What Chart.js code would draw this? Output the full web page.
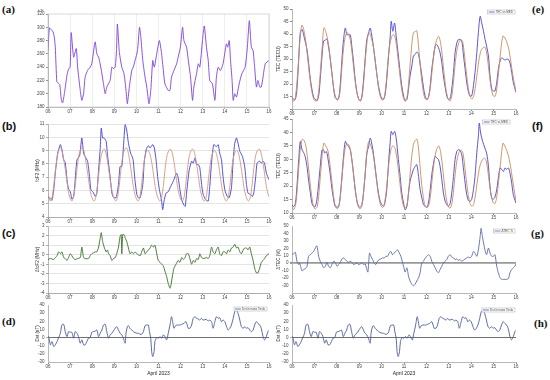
<!DOCTYPE html>
<html>
<head>
<meta charset="utf-8">
<script src="https://cdn.jsdelivr.net/npm/chart.js@4.4.1/dist/chart.umd.min.js"></script>
<style>
body { margin: 0; width: 550px; height: 380px; background: #fff; position: relative; overflow: hidden; }
canvas { position: absolute; }
.lab { position: absolute; font-weight: bold; font-size: 11px; line-height: 11px; color: #111; }
.serif { font-family: "Liberation Serif", "Times New Roman", serif; }
.sans { font-family: "Liberation Sans", Arial, sans-serif; }
</style>
</head>
<body>
<div class="lab serif" style="left:2px;top:4px">(a)</div>
<div class="lab sans" style="left:2px;top:121px">(b)</div>
<div class="lab sans" style="left:2px;top:228px">(c)</div>
<div class="lab serif" style="left:2px;top:316px">(d)</div>
<div class="lab serif" style="left:532px;top:4px">(e)</div>
<div class="lab sans" style="left:532px;top:121px">(f)</div>
<div class="lab serif" style="left:531px;top:228px">(g)</div>
<div class="lab serif" style="left:534px;top:318px">(h)</div>
<script>
// day of April 2023, value
const dayTicks = ['06', '07', '08', '09', '10', '11', '12', '13', '14', '15', '16'];

const hfObs = [[6.00,265],[6.06,299],[6.11,298],[6.23,293],[6.29,284],[6.33,270],[6.40,218],[6.47,216],[6.53,214],[6.60,192],[6.66,186],[6.75,202],[6.86,228],[6.93,237],[7.00,240],
  [7.05,292],[7.16,255],[7.28,268],[7.34,240],[7.46,205],[7.53,190],[7.61,200],[7.68,225],[7.79,235],[7.91,240],[7.98,245],[8.11,275],[8.14,278],[8.21,260],[8.29,255],[8.36,245],[8.44,230],[8.51,215],[8.59,200],[8.66,210],[8.81,220],[8.89,240],[8.96,238],[9.04,240],[9.10,265],
  [9.14,305],[9.23,262],[9.34,240],[9.44,230],[9.53,205],[9.59,185],[9.68,210],[9.79,235],[9.86,240],[9.94,250],[10.05,265],[10.14,300],[10.20,285],[10.29,250],[10.39,225],[10.47,210],[10.57,185],[10.65,205],[10.74,250],[10.81,240],[10.92,260],
  [11.04,280],[11.14,260],[11.22,235],[11.29,215],[11.44,205],[11.52,205],[11.59,225],[11.70,235],[11.82,245],[11.89,255],[11.99,270],[12.09,300],[12.15,280],[12.27,270],[12.35,250],[12.45,225],[12.54,190],[12.60,210],[12.72,230],[12.80,245],[12.87,240],[12.99,280],
  [13.07,302],[13.17,270],[13.25,250],[13.32,220],[13.44,215],[13.55,190],[13.62,225],[13.70,240],[13.80,235],[13.92,245],[14.07,275],[14.13,270],[14.20,280],[14.26,250],[14.33,220],[14.38,190],[14.45,200],[14.53,195],[14.65,215],[14.77,230],[14.92,240],
  [15.02,270],[15.11,310],[15.20,270],[15.28,265],[15.35,240],[15.43,210],[15.50,220],[15.58,210],[15.65,210],[15.73,225],[15.83,245],[16.00,250]];

const foObs = [[6.00,5.5],[6.11,5.4],[6.18,5.25],[6.26,6.05],[6.33,7.3],[6.44,8.8],[6.56,9.45],[6.63,9.07],[6.71,8.3],[6.78,8.1],[6.86,6.8],[6.93,6.1],[7.01,5.9],[7.08,5.35],[7.16,5.55],[7.23,6.8],[7.31,8.3],[7.43,8.6],[7.53,9.95],[7.61,8.8],[7.68,8.55],[7.79,8.2],[7.88,7.05],[7.94,6.05],
  [8.03,5.9],[8.14,5.55],[8.21,5.8],[8.29,7.55],[8.36,9.07],[8.41,10.7],[8.47,9.95],[8.54,9.95],[8.63,9.7],[8.69,8.7],[8.81,7.05],[8.89,5.8],[8.96,5.5],[9.08,5.45],[9.19,6.45],[9.26,7.8],[9.34,7.8],[9.41,9.2],[9.49,10.95],[9.56,10.55],[9.64,9.55],[9.74,8.8],[9.83,8.45],[9.86,8.2],[9.94,6.7],
  [10.02,5.7],[10.09,5.45],[10.17,5.45],[10.29,6.45],[10.35,8.05],[10.44,9.07],[10.54,9.37],[10.62,9.2],[10.74,9.45],[10.81,9.2],[10.89,8.3],[10.96,7.05],[11.04,6.05],[11.13,5.35],[11.19,4.55],[11.25,5.2],[11.34,5.8],[11.44,5.9],[11.55,6.3],[11.67,6.7],[11.82,7.3],[11.89,6.95],[11.97,6.05],
  [12.05,5.3],[12.15,4.9],[12.21,4.8],[12.27,5.8],[12.39,7.55],[12.50,8.2],[12.57,8.05],[12.65,8.45],[12.72,7.95],[12.80,7.95],[12.87,7.7],[12.95,6.45],[13.02,5.7],[13.14,5.3],[13.25,5.2],[13.32,6.3],[13.41,8.3],[13.50,9.45],[13.62,9.3],[13.70,9.45],[13.77,8.8],[13.85,8.3],[13.92,7.05],
  [14.00,6.05],[14.11,5.55],[14.20,5.45],[14.30,6.2],[14.38,8.3],[14.45,9.55],[14.53,9.95],[14.60,9.55],[14.68,8.95],[14.80,8.55],[14.90,7.8],[14.98,6.45],[15.05,5.8],[15.16,5.7],[15.25,5.55],[15.31,5.8],[15.40,7.05],[15.46,8.05],[15.58,8.2],[15.65,8.05],[15.73,8.2],[15.80,8.05],[15.88,7.3],[16.00,6.8]];

const foMed = [[6.00,5.8],[6.10,5.2],[6.20,5.6],[6.30,7.0],[6.40,8.4],[6.50,9.1],[6.58,9.2],[6.68,8.6],[6.78,7.6],[6.88,6.4],[6.96,5.6],
  [7.08,5.2],[7.18,5.7],[7.28,7.1],[7.38,8.5],[7.48,9.1],[7.58,9.2],[7.68,8.5],[7.78,7.5],[7.88,6.3],[7.96,5.6],
  [8.08,5.2],[8.18,5.6],[8.28,7.0],[8.38,8.4],[8.48,9.0],[8.56,9.1],[8.66,8.5],[8.76,7.4],[8.86,6.3],[8.95,5.6],
  [9.07,5.2],[9.17,5.7],[9.27,7.1],[9.37,8.5],[9.47,9.1],[9.56,9.2],[9.66,8.6],[9.76,7.5],[9.86,6.3],[9.95,5.6],
  [10.07,5.2],[10.17,5.6],[10.27,7.0],[10.37,8.4],[10.47,9.0],[10.55,9.0],[10.65,8.5],[10.75,7.5],[10.85,6.3],[10.94,5.6],
  [11.06,5.2],[11.16,5.6],[11.26,7.0],[11.36,8.4],[11.46,9.0],[11.55,9.1],[11.65,8.6],[11.75,7.6],[11.85,6.4],[11.95,5.6],
  [12.07,5.2],[12.17,5.6],[12.27,7.0],[12.37,8.4],[12.47,9.0],[12.56,9.1],[12.66,8.6],[12.76,7.6],[12.86,6.4],[12.95,5.6],
  [13.07,5.2],[13.17,5.6],[13.27,7.0],[13.37,8.3],[13.47,8.9],[13.56,9.0],[13.66,8.5],[13.76,7.5],[13.86,6.3],[13.95,5.6],
  [14.07,5.2],[14.17,5.6],[14.27,7.0],[14.37,8.3],[14.47,8.9],[14.56,9.0],[14.66,8.5],[14.76,7.5],[14.86,6.3],[14.95,5.6],
  [15.07,5.2],[15.17,5.6],[15.27,7.0],[15.37,8.4],[15.47,9.0],[15.57,9.1],[15.67,8.6],[15.77,7.6],[15.87,6.4],[15.96,5.7],[16.00,5.5]];

const dFo = [[6.00,-0.5],[6.11,-0.4],[6.26,-0.5],[6.33,-0.3],[6.41,-0.1],[6.48,0.3],[6.56,0.1],[6.63,0.3],[6.71,-0.3],[6.78,-0.4],[6.86,-0.6],[6.93,-0.3],[7.01,0.1],[7.08,-0.1],[7.16,-0.4],[7.23,-0.5],[7.34,-0.4],[7.46,-0.3],[7.53,0.8],[7.61,-0.3],[7.68,-0.4],[7.83,-0.4],[7.91,-0.1],[7.98,0.1],
  [8.14,0.3],[8.21,0.3],[8.29,0.8],[8.36,1.7],[8.41,2.3],[8.47,1.4],[8.54,0.8],[8.63,0.3],[8.69,0.5],[8.74,0.1],[8.81,-0.1],[8.89,-0.6],[8.96,-0.4],[9.04,-0.3],[9.11,0.1],[9.19,0.8],[9.26,1.9],[9.31,2.1],[9.34,0.1],[9.38,2.1],[9.44,2.1],[9.50,1.7],[9.56,1.4],[9.64,0.7],[9.71,0.1],[9.79,0.3],[9.86,0.1],[9.94,0.3],
  [10.02,0.1],[10.17,-0.1],[10.24,0.3],[10.32,0.7],[10.39,0.1],[10.47,0.3],[10.54,0.5],[10.62,0.7],[10.69,1.0],[10.77,0.8],[10.84,1.0],[10.92,0.1],[10.99,-0.6],[11.07,-0.8],[11.22,-1.2],[11.29,-1.7],[11.37,-2.3],[11.44,-3.0],[11.52,-3.5],[11.56,-3.2],[11.64,-2.1],[11.70,-1.4],[11.79,-1.0],[11.89,-0.6],[11.97,-0.8],
  [12.05,-0.3],[12.12,-0.5],[12.20,-0.3],[12.27,0.1],[12.35,0.1],[12.42,-0.4],[12.50,-1.0],[12.57,-0.6],[12.65,-0.8],[12.72,-0.4],[12.80,-0.5],[12.87,0.1],[12.95,-0.3],[13.05,-0.4],[13.17,-0.3],[13.25,-0.4],[13.32,-0.1],[13.40,0.8],[13.47,0.3],[13.55,0.1],[13.62,0.5],[13.70,0.8],[13.77,0.1],[13.85,-0.1],[13.92,0.3],
  [14.00,0.3],[14.08,0.1],[14.15,0.5],[14.23,0.3],[14.30,0.7],[14.38,0.8],[14.45,1.1],[14.53,0.7],[14.60,0.8],[14.68,0.3],[14.75,0.1],[14.83,0.5],[14.90,0.7],[14.98,0.7],[15.05,0.5],[15.13,0.8],[15.20,0.1],[15.28,-0.6],[15.35,-1.4],[15.43,-1.9],[15.50,-1.9],[15.58,-1.4],[15.65,-0.8],[15.73,-0.6],[15.80,-0.4],[15.88,-0.1],[16.00,0.1]];

const dst = [[6.00,1.2],[6.03,1.2],[6.11,-8.9],[6.18,-4.9],[6.26,-11],[6.33,-8.9],[6.41,-4.9],[6.48,0],[6.56,5.3],[6.63,15.4],[6.71,16.3],[6.78,7.3],[6.86,1.2],[6.93,7.3],[7.01,6.5],[7.08,6.5],[7.16,-0.8],[7.23,7.3],[7.31,5.3],[7.38,1.2],[7.46,-6.9],[7.53,-2.8],[7.61,-8.9],[7.68,-8.9],[7.76,-4.9],[7.83,-0.8],[7.91,0],[7.98,6.5],
  [8.06,7.3],[8.14,8.1],[8.21,9.3],[8.29,1.2],[8.36,5.3],[8.44,9.3],[8.51,15.4],[8.59,16.3],[8.66,7.3],[8.74,-0.8],[8.81,3.3],[8.89,5.3],[8.96,8.1],[9.04,11.4],[9.11,13.4],[9.19,9.3],[9.26,5.3],[9.34,3.3],[9.41,-0.8],[9.49,-6.9],[9.53,5.3],[9.59,13.4],[9.64,14.6],[9.71,11.4],[9.79,9.3],[9.86,7.3],
  [10.02,5.3],[10.09,5.3],[10.17,4.1],[10.24,4.1],[10.32,7.3],[10.39,14.6],[10.47,15.4],[10.54,15.4],[10.59,7.3],[10.65,-0.8],[10.69,-17.1],[10.74,-23.2],[10.80,-17.1],[10.84,-4.9],[10.92,0],[10.99,-0.8],[11.07,1.2],[11.14,-0.8],[11.22,3.3],[11.29,1.2],[11.37,-2.8],[11.44,5.3],[11.52,15.4],[11.59,25.6],[11.64,19.5],[11.70,11.4],[11.77,14.6],[11.85,15.4],[11.97,15.4],
  [12.05,16.3],[12.15,17.5],[12.24,19.5],[12.35,11.4],[12.42,11.4],[12.50,15.4],[12.57,23.6],[12.65,25.6],[12.72,23.6],[12.80,22.8],[12.87,21.5],[12.95,23.6],[13.02,21.5],[13.17,22.4],[13.25,20.3],[13.32,21.5],[13.40,19.5],[13.47,11.4],[13.55,19.5],[13.62,25.6],[13.70,23.6],[13.77,24.4],[13.85,19.5],[13.92,21.5],
  [14.00,19.5],[14.08,13.4],[14.15,9.3],[14.23,11.4],[14.30,15.4],[14.38,23.6],[14.45,31.7],[14.53,33.7],[14.60,29.7],[14.68,21.5],[14.75,13.4],[14.83,11.4],[14.90,13.4],[14.98,11.4],[15.05,12.2],[15.13,9.3],[15.20,7.3],[15.28,9.3],[15.35,15.4],[15.43,19.5],[15.50,17.5],[15.58,15.4],[15.65,11.4],[15.73,1.2],[15.80,-2.8],[15.88,1.2],[15.95,7.3],[16.00,9]];

const tecObsE = [[6.00,14.6],[6.07,13.9],[6.15,13.9],[6.22,17.9],[6.30,29.8],[6.37,40.5],[6.45,41.8],[6.56,38.1],[6.67,33.8],[6.74,28.5],[6.82,21.9],[6.89,17.9],[6.97,14.6],[7.04,13.9],[7.11,13.2],[7.19,15.2],[7.26,21.9],[7.34,31.2],[7.41,37.2],[7.49,37.5],[7.56,38.1],[7.60,36.5],[7.68,31.9],[7.78,24.6],[7.86,18],[7.93,14.6],
  [8.01,13.9],[8.08,14.2],[8.15,19.3],[8.23,29.8],[8.30,37.7],[8.38,42.4],[8.45,39.7],[8.52,39.7],[8.60,39.7],[8.67,35.1],[8.75,28.5],[8.82,21.9],[8.90,16.6],[8.97,14.2],[9.05,13.2],[9.12,15.2],[9.19,21.2],[9.27,30.5],[9.34,37.7],[9.42,40.5],[9.49,42.4],[9.54,40.5],[9.61,36.5],[9.67,32.5],[9.76,25.9],[9.86,19.3],[9.94,15.9],
  [10.01,14.2],[10.09,13.9],[10.16,15.9],[10.23,21.9],[10.31,31.2],[10.38,38.5],[10.43,45.1],[10.50,41.1],[10.58,44.4],[10.65,39.1],[10.75,31.2],[10.83,24.6],[10.90,19.3],[10.98,15.2],[11.05,13.2],[11.13,13.9],[11.20,17.9],[11.27,23.2],[11.35,27.2],[11.42,31.2],[11.50,31.9],[11.57,32.8],[11.65,31.9],[11.72,28],[11.80,23.2],[11.87,18.6],[11.94,15.2],
  [12.02,13.9],[12.09,14.6],[12.17,19.3],[12.24,25.9],[12.32,31.2],[12.39,35.1],[12.46,35.8],[12.54,34.5],[12.61,32.5],[12.69,28.5],[12.76,23.2],[12.84,18.6],[12.91,15.2],[12.98,13.9],[13.06,14.2],[13.13,17.9],[13.21,24.6],[13.28,32.5],[13.36,36.5],[13.43,37.8],[13.50,37.8],[13.58,37.2],[13.65,31.9],[13.73,25.9],[13.80,20.6],[13.88,16.6],[13.95,15.2],
  [14.02,15.2],[14.10,19.3],[14.17,24.6],[14.25,32.5],[14.32,40.5],[14.40,47.1],[14.47,44.4],[14.55,41.1],[14.62,37.8],[14.69,35.1],[14.77,31.2],[14.84,23.2],[14.92,17.9],[14.99,17.2],[15.06,17.2],[15.14,20.6],[15.21,25.9],[15.29,29.2],[15.36,30.5],[15.44,29.9],[15.51,29.6],[15.58,29.9],[15.66,29.9],[15.73,28.5],[15.81,24.6],[15.88,20.6],[16.00,16.6]];

const tecMedE = [[6.00,14.2],[6.07,13.0],[6.15,14.5],[6.25,24],[6.35,37],[6.44,43.5],[6.53,41.5],[6.63,36],[6.74,27],[6.85,19],[6.95,14.5],
  [7.05,13.2],[7.15,14.5],[7.25,23],[7.35,35],[7.43,42.5],[7.52,40.5],[7.62,36.5],[7.72,29],[7.82,21],[7.92,15.5],
  [8.03,13.5],[8.13,16],[8.23,27],[8.33,36.5],[8.44,40.5],[8.54,39.8],[8.64,35.5],[8.74,27.5],[8.85,19],[8.95,14.5],
  [9.05,13.2],[9.15,16],[9.25,27],[9.35,37],[9.44,40.5],[9.54,38.5],[9.64,34.5],[9.74,27.5],[9.84,20],[9.94,15],
  [10.05,13.5],[10.15,16],[10.25,25.5],[10.35,35],[10.45,39],[10.54,39.8],[10.63,37.5],[10.73,30.5],[10.83,22.5],[10.93,16],
  [11.03,13.5],[11.13,14.5],[11.23,23],[11.33,34],[11.42,40.5],[11.50,41],[11.57,41.3],[11.65,35],[11.75,25],[11.85,17.5],[11.95,14],
  [12.05,13.8],[12.15,17],[12.25,25],[12.35,33],[12.45,37.5],[12.55,39],[12.65,35.5],[12.75,27.5],[12.85,19.5],[12.95,14.5],
  [13.05,13.2],[13.15,16],[13.25,25],[13.35,33],[13.45,36.5],[13.55,37.8],[13.64,36],[13.73,29],[13.83,21],[13.93,15.5],
  [14.03,14],[14.12,15.5],[14.22,21],[14.32,28],[14.42,33],[14.52,34.5],[14.60,34.8],[14.68,33],[14.77,27],[14.87,19.5],[14.97,15.5],
  [15.06,15],[15.14,18],[15.22,24.5],[15.32,33.5],[15.42,39.2],[15.50,38.5],[15.60,36.5],[15.70,33],[15.80,27],[15.90,21.5],[16.00,17]];

const tecObsF = [[6.00,13.0],[6.07,12.4],[6.15,13.6],[6.22,19.8],[6.30,29.8],[6.37,36.6],[6.45,33.5],[6.52,32.5],[6.59,31],[6.67,27.3],[6.74,22.3],[6.82,17.4],[6.89,13.6],[6.97,12.4],[7.04,12.4],[7.11,14.9],[7.19,21.1],[7.26,27.3],[7.34,33.5],[7.41,33.5],[7.46,32.3],[7.53,32.9],[7.59,31.1],[7.68,26.1],[7.78,19.3],[7.86,14.9],[7.93,12.4],
  [8.01,12.2],[8.08,12.4],[8.15,16.1],[8.23,23.6],[8.30,31.1],[8.38,36.7],[8.45,35.5],[8.52,34.8],[8.60,33.6],[8.67,29.9],[8.75,24.3],[8.82,18.7],[8.90,14.4],[8.97,12.5],[9.05,12.2],[9.12,13.1],[9.19,17.4],[9.27,24.8],[9.34,32.3],[9.42,34.7],[9.49,37.9],[9.54,36.7],[9.61,33.6],[9.67,29.9],[9.76,23.6],[9.86,17.4],[9.94,14.3],
  [10.01,13.1],[10.09,12.5],[10.16,14.3],[10.23,18.7],[10.31,28.6],[10.38,36.1],[10.43,40.4],[10.50,39.2],[10.58,40.4],[10.65,37.9],[10.75,29.9],[10.83,23.6],[10.90,17.4],[10.98,13.7],[11.05,11.2],[11.13,12.5],[11.20,17.4],[11.27,21.8],[11.35,24.3],[11.42,26.2],[11.50,27.4],[11.57,28],[11.65,23.6],[11.72,18.7],[11.80,15.5],[11.87,13.1],[11.94,12.5],
  [12.02,12.2],[12.09,13.7],[12.17,18.7],[12.24,24.3],[12.32,28.6],[12.39,31.1],[12.46,30.5],[12.54,29.9],[12.61,27.4],[12.69,22.4],[12.76,17.4],[12.84,14.3],[12.91,13.1],[12.98,12.5],[13.06,13.5],[13.13,17.4],[13.21,23.6],[13.28,29.9],[13.36,33],[13.43,33.6],[13.50,33.3],[13.58,31.7],[13.65,26.8],[13.73,21.1],[13.80,16.8],[13.88,14.6],[13.95,14.3],
  [14.02,15],[14.10,18.7],[14.17,23.6],[14.25,32.4],[14.32,38.6],[14.36,43.5],[14.42,39.8],[14.51,36.7],[14.61,34.2],[14.69,32.3],[14.77,27.4],[14.84,19.9],[14.92,15.5],[14.99,15.2],[15.06,15.9],[15.14,18.7],[15.21,23],[15.29,26.8],[15.36,26.2],[15.44,25.5],[15.51,26.8],[15.58,26.2],[15.66,26.8],[15.73,24.9],[15.81,21.1],[15.88,16.8],[16.00,13.7]];

const tecMedF = [[6.00,12.5],[6.07,11.2],[6.17,13.5],[6.27,23],[6.36,33],[6.45,37.4],[6.54,37],[6.63,34.5],[6.73,27.5],[6.83,19.5],[6.93,13.5],
  [7.03,11.5],[7.13,12.5],[7.23,20],[7.33,30],[7.42,36],[7.51,35],[7.61,33],[7.71,27],[7.81,19.5],[7.91,13.5],
  [8.02,11.5],[8.12,13.5],[8.22,22],[8.32,31],[8.42,35.5],[8.52,35.5],[8.62,33],[8.72,26.5],[8.82,19],[8.92,13.5],
  [9.03,11.5],[9.13,13],[9.23,21],[9.33,31],[9.42,36.5],[9.52,35],[9.62,32],[9.72,26],[9.82,19],[9.92,14],
  [10.03,12],[10.13,13.5],[10.23,20],[10.33,29],[10.43,34],[10.52,35],[10.62,33.5],[10.72,28],[10.82,21],[10.92,14.5],
  [11.02,12],[11.12,12.5],[11.22,19],[11.32,29],[11.42,35.5],[11.50,37],[11.58,37.5],[11.66,33],[11.75,24],[11.85,16.5],[11.95,12.5],
  [12.05,12],[12.15,14.5],[12.25,22],[12.35,29.5],[12.45,33.5],[12.55,35],[12.65,32],[12.75,25],[12.85,17.5],[12.95,13],
  [13.05,11.8],[13.15,14],[13.25,21.5],[13.35,29],[13.45,32.5],[13.55,33.5],[13.64,32],[13.73,26],[13.83,19],[13.93,14],
  [14.03,12.5],[14.12,13.5],[14.22,18.5],[14.32,24.5],[14.42,28.5],[14.52,30],[14.60,30.5],[14.68,29],[14.77,24],[14.87,17.5],[14.97,14],
  [15.06,13.5],[15.14,16],[15.22,21.5],[15.32,29.5],[15.42,36],[15.50,35],[15.60,33],[15.70,30],[15.80,25],[15.90,19.5],[16.00,14.5]];

const dTec = [[6.00,11.5],[6.07,12.8],[6.15,14.6],[6.22,2.7],[6.30,-1.8],[6.34,0.4],[6.40,-6.2],[6.45,-10.6],[6.52,-8.4],[6.59,-7.5],[6.67,-4],[6.74,9.3],[6.82,11.5],[6.89,13.7],[6.97,15.9],[7.04,20.4],[7.11,23.5],[7.19,9.3],[7.26,2.7],[7.34,-1.8],[7.41,-6.2],[7.49,-4],[7.56,1.3],[7.63,-4],[7.71,-6.2],[7.78,-1.8],[7.86,2.7],[7.93,1.3],
  [8.01,-4],[8.08,-1.8],[8.15,0.4],[8.23,5.8],[8.30,7.1],[8.38,4.9],[8.45,2.7],[8.52,1.3],[8.60,2.7],[8.67,1.3],[8.75,-1.8],[8.82,-0.9],[8.90,0.4],[8.97,-1.8],[9.05,-0.9],[9.12,0.4],[9.19,-1.8],[9.27,-0.9],[9.34,-8.4],[9.39,-11.9],[9.46,13.7],[9.52,9.3],[9.60,4.9],[9.67,0.4],[9.74,-1.8],[9.82,2.7],[9.89,4.9],[9.97,5.8],
  [10.04,7.1],[10.12,7.1],[10.19,9.3],[10.27,9.3],[10.34,13.7],[10.41,15.9],[10.49,11.5],[10.56,13.7],[10.64,15.9],[10.71,18.1],[10.79,13.7],[10.86,9.3],[10.90,4.9],[10.98,-4],[11.05,-11.9],[11.13,-6.2],[11.20,-17.3],[11.27,-23.9],[11.35,-28.3],[11.42,-30.5],[11.49,-28.3],[11.57,-23.9],[11.65,-19.5],[11.72,-12.8],[11.79,0.4],[11.87,2.7],[11.95,7.1],
  [12.02,9.3],[12.09,11.5],[12.17,9.3],[12.24,2.7],[12.32,-1.8],[12.39,-6.2],[12.46,-10.6],[12.54,-12.8],[12.61,-8.4],[12.69,-4],[12.76,0.4],[12.84,2.7],[12.91,4.9],[12.98,9.3],[13.06,11.5],[13.13,8.4],[13.21,7.1],[13.28,4.9],[13.36,5.8],[13.43,4],[13.50,4.9],[13.58,2.7],[13.65,4],[13.73,5.8],[13.80,7.1],[13.88,8.4],[13.95,7.1],
  [14.02,9.3],[14.10,15.9],[14.17,13.7],[14.25,9.3],[14.32,18.1],[14.40,35.8],[14.44,46.9],[14.50,35.8],[14.58,22.6],[14.65,13.7],[14.69,11.5],[14.77,20.4],[14.84,13.7],[14.92,9.3],[14.99,9.3],[15.06,11.5],[15.14,-4],[15.21,-12.8],[15.29,-19.5],[15.36,-21.7],[15.44,-21.7],[15.51,-21.7],[15.58,-21.7],[15.66,-20.8],[15.73,-12.8],[15.81,-8.4],[15.88,-6.2],[15.95,-4],[16.00,-0.9]];

const PT = 5, PR = 5;
const pts = a => a.map(p => ({ x: p[0], y: p[1] }));

const boxLegend = {
    id: 'boxLegend',
    afterDraw(chart, args, o) {
        if (!o || !o.text) return;
        const c = chart.ctx, a = chart.chartArea;
        c.save();
        c.font = '3px "Liberation Sans"';
        const w = c.measureText(o.text).width + 10, h = 4;
        const x = a.right - w - (o.dx || 1), y = a.top + (o.dy || 1);
        c.fillStyle = '#fff'; c.fillRect(x, y, w, h);
        c.strokeStyle = '#aaa'; c.lineWidth = 0.5; c.strokeRect(x, y, w, h);
        c.strokeStyle = o.color; c.lineWidth = 0.8;
        c.beginPath(); c.moveTo(x + 1, y + h / 2); c.lineTo(x + 7, y + h / 2); c.stroke();
        c.fillStyle = '#444'; c.textBaseline = 'middle'; c.fillText(o.text, x + 8, y + h / 2);
        c.restore();
    }
};
const frame = {
    id: 'frame',
    afterDraw(chart, args, o) {
        const c = chart.ctx, a = chart.chartArea;
        if (o && o.color) {
            c.save(); c.strokeStyle = o.color; c.lineWidth = 0.7;
            c.strokeRect(a.left, a.top, a.right - a.left, a.bottom - a.top); c.restore();
        }
        if (o && o.note) {
            c.save(); c.font = '4px "Liberation Sans"'; c.fillStyle = '#555';
            c.fillText(o.note, a.left - 10, a.top - 2); c.restore();
        }
    }
};
Chart.register(boxLegend, frame);

function xScale(h, title, grid) {
    return {
        type: 'linear', min: 6, max: 16,
        afterFit(s) { s.height = h; },
        ticks: { stepSize: 1, autoSkip: false, maxRotation: 0, padding: 0.5, font: { size: 4.5, family: 'Liberation Sans' }, color: '#444',
            callback: v => dayTicks[v - 6] },
        grid: grid || { drawOnChartArea: false, tickLength: 2, tickColor: '#888' },
        border: { color: '#888', width: 0.6 },
        title: title ? { display: true, text: title, font: { size: 5, family: 'Liberation Sans' }, padding: 0, color: '#222' } : { display: false }
    };
}
function yScale(w, min, max, step, title, grid, cb) {
    return {
        min, max,
        afterFit(s) { s.width = w; },
        ticks: { stepSize: step, autoSkip: false, padding: 1.5, font: { size: 4.5, family: 'Liberation Sans' }, color: '#444', callback: cb || (v => v) },
        grid: grid || { drawOnChartArea: false, tickLength: 2, tickColor: '#888' },
        border: { color: '#888', width: 0.6 },
        title: title ? { display: true, text: title, font: { size: 4.5, family: 'Liberation Sans' }, padding: 0, color: '#333' } : { display: false }
    };
}
function line(data, color, tension) {
    return { data: pts(data), borderColor: color, borderWidth: 0.9, pointRadius: 0, tension: tension == null ? 0.3 : tension, fill: false };
}
function panel(box, xh, yw, datasets, scales, plugins) {
    const cv = document.createElement('canvas');
    const w = box.r - box.l + yw + PR, h = box.b - box.t + PT + xh;
    cv.width = w; cv.height = h;
    cv.style.left = (box.l - yw) + 'px'; cv.style.top = (box.t - PT) + 'px';
    cv.style.width = w + 'px'; cv.style.height = h + 'px';
    document.body.appendChild(cv);
    new Chart(cv.getContext('2d'), {
        type: 'line',
        data: { datasets },
        options: {
            responsive: false, animation: false, devicePixelRatio: 1,
            layout: { padding: { top: PT, right: PR, left: 0, bottom: 0 } },
            plugins: Object.assign({ legend: { display: false }, tooltip: { enabled: false } }, plugins || {}),
            scales
        }
    });
}

const hGrid = { color: '#d9d9d9', lineWidth: 0.7, tickLength: 2, tickColor: '#888' };
const zeroGrid = (col, lw) => ({ color: c => c.tick.value === 0 ? col : 'rgba(0,0,0,0)', lineWidth: c => c.tick.value === 0 ? lw : 0, tickLength: 2, tickColor: '#888' });

// (a)
panel({ l: 48, t: 14, r: 269, b: 107 }, 8, 13,
    [line(hfObs, '#7d3fd8', 0.2)],
    { x: xScale(8, null, { color: '#e6e6e6', lineWidth: 0.7, tickLength: 2, tickColor: '#888' }), y: yScale(13, 180, 320, 20, null) },
    { frame: { color: '#c8c8c8', note: "h'F" } });
// (b)
panel({ l: 48, t: 124, r: 269, b: 217 }, 8, 13,
    [line(foMed, '#d49a80', 0.35), line(foObs, '#3f3fd6', 0.2)],
    { x: xScale(8), y: yScale(13, 4, 11, 1, 'foF2 (MHz)', hGrid) });
// (c)
panel({ l: 48, t: 226, r: 269, b: 293 }, 8, 13,
    [line(dFo, '#3b6e2a', 0.2)],
    { x: xScale(8), y: yScale(13, -4, 3, 1, 'ΔfoF2 (MHz)', hGrid) });
// (d)
panel({ l: 48, t: 305, r: 269, b: 362 }, 15, 13,
    [line(dst, '#4d5c99', 0.3)],
    { x: xScale(15, 'April 2023'), y: yScale(13, -30, 40, 10, 'Dst (nT)', zeroGrid('#333', 0.7)) },
    { boxLegend: { text: 'Dst in nano Tesla', color: '#4d5c99', dx: 2, dy: 2 } });
// (e)
panel({ l: 292, t: 9, r: 516, b: 109 }, 8, 16,
    [line(tecMedE, '#c98d5e', 0.35), line(tecObsE, '#4a44d0', 0.3)],
    { x: xScale(8), y: yScale(16, 10, 50, 5, 'TEC (TECU)', null, v => v === 10 ? '' : v) },
    { boxLegend: { text: 'TEC vs MED', color: '#4a44d0', dx: 1, dy: 1 } });
// (f)
panel({ l: 292, t: 119, r: 516, b: 213 }, 8, 16,
    [line(tecMedF, '#c98d5e', 0.35), line(tecObsF, '#4a44d0', 0.3)],
    { x: xScale(8), y: yScale(16, 10, 45, 5, 'TEC (TECU)') },
    { boxLegend: { text: 'TEC vs MED', color: '#4a44d0', dx: 6, dy: 1 } });
// (g)
panel({ l: 292, t: 226, r: 516, b: 293 }, 8, 16,
    [line(dTec, '#5b6aa5', 0.25)],
    { x: xScale(8), y: yScale(16, -40, 50, 10, 'ΔTEC (%)', zeroGrid('#999', 1.8), v => v === -40 ? '' : v) },
    { boxLegend: { text: 'ΔTEC %', color: '#5b6aa5', dx: 1, dy: 3 } });
// (h)
panel({ l: 292, t: 305, r: 516, b: 362 }, 15, 16,
    [line(dst, '#4d5c99', 0.3)],
    { x: xScale(15, 'April 2023'), y: yScale(16, -30, 40, 10, 'Dst (nT)', zeroGrid('#333', 0.7)) },
    { boxLegend: { text: 'Dst in nano Tesla', color: '#4d5c99', dx: 1, dy: 3 } });
</script>
</body>
</html>
